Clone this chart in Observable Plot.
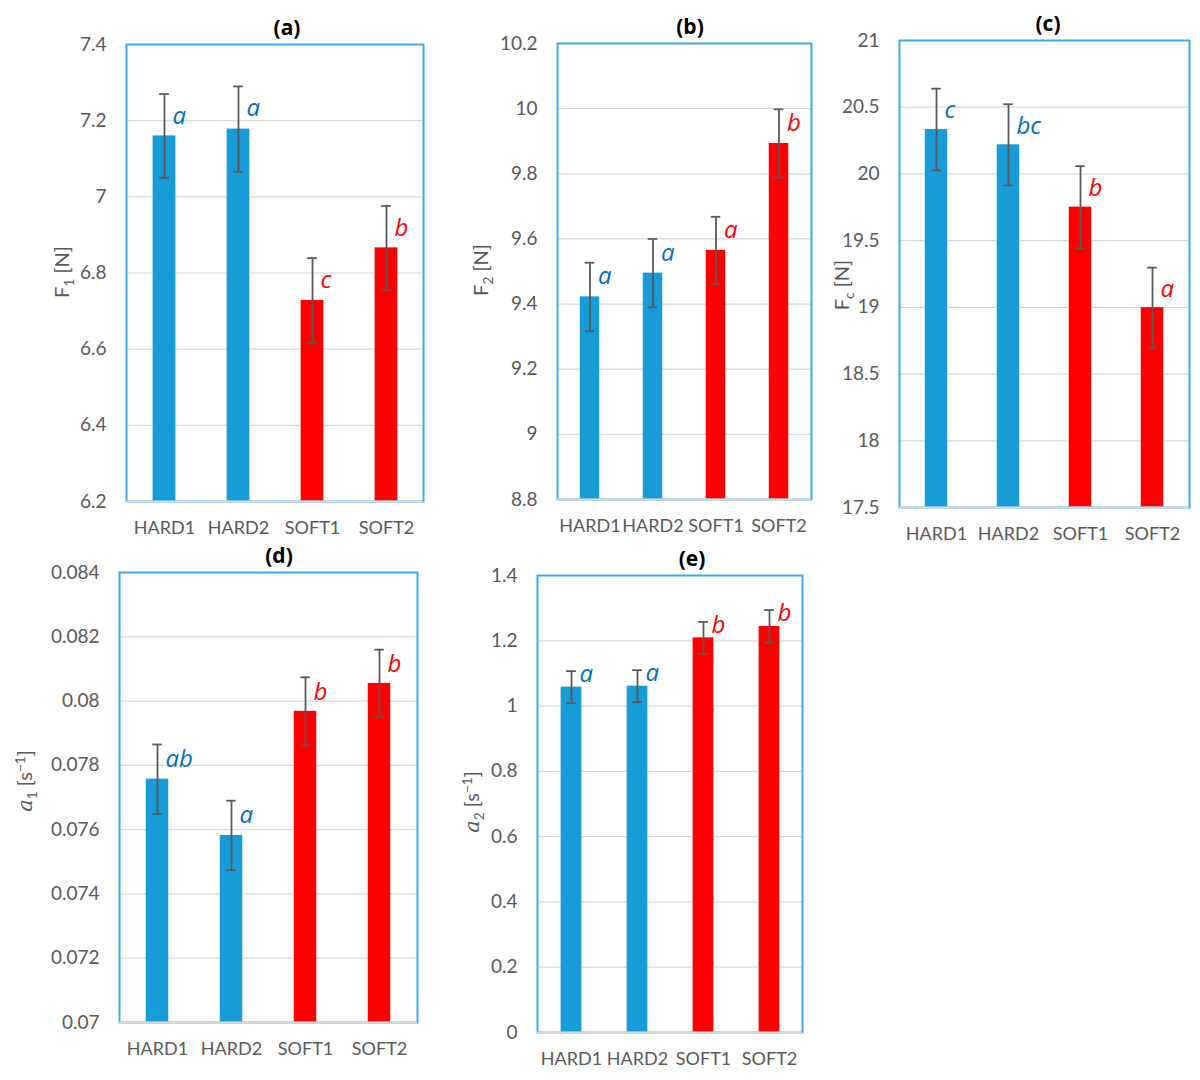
<!DOCTYPE html>
<html>
<head>
<meta charset="utf-8">
<script src="https://cdn.jsdelivr.net/npm/d3@7"></script>
<script src="https://cdn.jsdelivr.net/npm/@observablehq/plot@0.6"></script>
<style>
  html, body { margin: 0; padding: 0; background: #fff; }
  #root { position: relative; width: 1200px; height: 1080px; overflow: hidden; background: #fff; }
  .panel { position: absolute; }
  .ttl { position: absolute; transform: translate(-50%, -50%); font: bold 21px "Open Sans", Lato, sans-serif; color: #000; white-space: nowrap; }
  .ylab { position: absolute; transform: translate(-50%, -50%) rotate(-90deg); font: 20px Lato, sans-serif; color: #595959; white-space: nowrap; }
  .ylab sub, .ylab sup { font-size: 0.68em; }
  .ylab i { font-family: "DejaVu Serif", serif; font-size: 1.05em; }
</style>
</head>
<body>
<div id="root"></div>
<script>
// ---------- data ----------
const categories = ["HARD1", "HARD2", "SOFT1", "SOFT2"];

const f1Mean = [7.16, 7.178, 6.728, 6.866];
const f1Err = [0.11, 0.112, 0.111, 0.11];
const f1Letters = ["a", "a", "c", "b"];
const f1Ticks = [6.2, 6.4, 6.6, 6.8, 7, 7.2, 7.4];

const f2Mean = [9.422, 9.495, 9.565, 9.893];
const f2Err = [0.105, 0.105, 0.103, 0.105];
const f2Letters = ["a", "a", "a", "b"];
const f2Ticks = [8.8, 9, 9.2, 9.4, 9.6, 9.8, 10, 10.2];

const fcMean = [20.333, 20.218, 19.751, 18.998];
const fcErr = [0.306, 0.304, 0.307, 0.3];
const fcLetters = ["c", "bc", "b", "a"];
const fcTicks = [17.5, 18, 18.5, 19, 19.5, 20, 20.5, 21];

const a1Mean = [0.07757, 0.07582, 0.07968, 0.08055];
const a1Err = [0.00108, 0.00108, 0.00106, 0.00105];
const a1Letters = ["ab", "a", "b", "b"];
const a1Ticks = [0.07, 0.072, 0.074, 0.076, 0.078, 0.08, 0.082, 0.084];

const a2Mean = [1.058, 1.061, 1.209, 1.244];
const a2Err = [0.049, 0.049, 0.049, 0.05];
const a2Letters = ["a", "a", "b", "b"];
const a2Ticks = [0, 0.2, 0.4, 0.6, 0.8, 1, 1.2, 1.4];

// ---------- styles / layout ----------
const barColor = c => c.startsWith("HARD") ? "#179CD8" : "#FF0000";
const letterColor = c => c.startsWith("HARD") ? "#0070C0" : "#FF0000";
const ML = 110, MT = 40, MR = 10, MB = 50;

const panels = [
  {id: "(a)", mean: f1Mean, err: f1Err, letters: f1Letters, ticks: f1Ticks,
   L: 126, T: 44, W: 297, H: 457, barW: 23, ldy: 22, tx: 287,
   ylab: "F<sub>1</sub> [N]", yx: 63, yy: 272},
  {id: "(b)", mean: f2Mean, err: f2Err, letters: f2Letters, ticks: f2Ticks,
   L: 557, T: 43, W: 254, H: 456, barW: 20, ldy: 14, tx: 690,
   ylab: "F<sub>2</sub> [N]", yx: 482, yy: 270},
  {id: "(c)", mean: fcMean, err: fcErr, letters: fcLetters, ticks: fcTicks,
   L: 899, T: 40, W: 290, H: 467, barW: 23, ldy: 22, tx: 1048,
   ylab: "F<sub>c</sub> [N]", yx: 843, yy: 285},
  {id: "(d)", mean: a1Mean, err: a1Err, letters: a1Letters, ticks: a1Ticks,
   L: 119, T: 572, W: 298, H: 450, barW: 23, ldy: 15, tx: 279,
   ylab: "<i>a</i><sub>1</sub> [s<sup>−1</sup>]", yx: 26, yy: 781},
  {id: "(e)", mean: a2Mean, err: a2Err, letters: a2Letters, ticks: a2Ticks,
   L: 537, T: 575, W: 265, H: 457, barW: 21, ldy: 3, tx: 692,
   ylab: "<i>a</i><sub>2</sub> [s<sup>−1</sup>]", yx: 473, yy: 802}
];

const root = document.getElementById("root");

for (const p of panels) {
  const rows = categories.map((c, i) => ({cat: c, mean: p.mean[i], err: p.err[i], letter: p.letters[i]}));
  const lo = p.ticks[0], hi = p.ticks[p.ticks.length - 1];
  const step = p.W / categories.length;
  const barInset = (step - p.barW) / 2;
  const capInset = (step - 10) / 2;

  const chart = Plot.plot({
    width: ML + p.W + MR,
    height: MT + p.H + MB,
    marginLeft: ML, marginTop: MT, marginRight: MR, marginBottom: MB,
    style: {fontFamily: "Lato, sans-serif", fontSize: "19px", color: "#595959", background: "transparent", overflow: "visible"},
    x: {type: "band", domain: categories, padding: 0, label: null},
    y: {domain: [lo, hi], label: null},
    marks: [
      Plot.gridY(p.ticks, {stroke: "#d9d9d9", strokeOpacity: 1, strokeWidth: 1.2}),
      Plot.barY(rows, {x: "cat", y1: () => lo, y2: "mean", fill: d => barColor(d.cat),
        insetLeft: barInset, insetRight: barInset}),
      Plot.ruleX(rows, {x: "cat", y1: d => d.mean - d.err, y2: d => d.mean + d.err,
        stroke: "#595959", strokeWidth: 1.8}),
      Plot.tickY(rows, {x: "cat", y: d => d.mean + d.err, stroke: "#595959", strokeWidth: 1.8,
        insetLeft: capInset, insetRight: capInset}),
      Plot.tickY(rows, {x: "cat", y: d => d.mean - d.err, stroke: "#595959", strokeWidth: 1.8,
        insetLeft: capInset, insetRight: capInset}),
      Plot.text(rows, {x: "cat", y: d => d.mean + d.err, text: "letter", fill: d => letterColor(d.cat),
        textAnchor: "start", lineAnchor: "middle", dx: 8, dy: p.ldy,
        fontFamily: "Open Sans, sans-serif", fontStyle: "italic", fontSize: 24}),
      Plot.frame({stroke: "#40A8EC", strokeWidth: 2}),
      Plot.ruleY([lo], {stroke: "#d9d9d9", strokeWidth: 2}),
      Plot.axisY(p.ticks, {tickSize: 0, tickPadding: 20, tickFormat: d => String(d), label: null}),
      Plot.axisX({tickSize: 0, tickPadding: 20, label: null, fontSize: 18})
    ]
  });
  const holder = document.createElement("div");
  holder.className = "panel";
  holder.style.left = (p.L - ML) + "px";
  holder.style.top = (p.T - MT) + "px";
  holder.appendChild(chart);
  root.appendChild(holder);

  const t = document.createElement("div");
  t.className = "ttl";
  t.style.left = p.tx + "px";
  t.style.top = (p.T - 17) + "px";
  t.textContent = p.id;
  root.appendChild(t);

  const yl = document.createElement("div");
  yl.className = "ylab";
  yl.style.left = p.yx + "px";
  yl.style.top = p.yy + "px";
  yl.innerHTML = p.ylab;
  root.appendChild(yl);
}
</script>
</body>
</html>
